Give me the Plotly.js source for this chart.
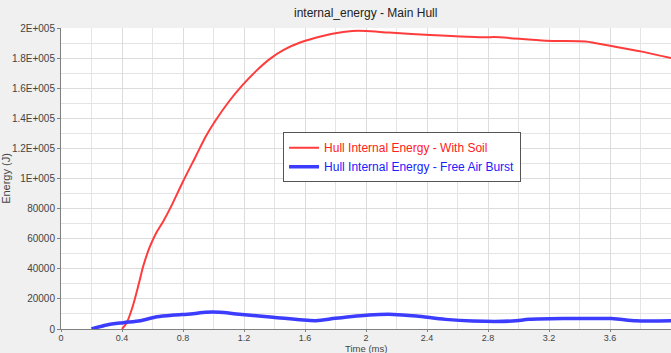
<!DOCTYPE html>
<html>
<head>
<meta charset="utf-8">
<script src="https://cdn.plot.ly/plotly-3.0.1.min.js"></script>
<style>html,body{margin:0;padding:0;background:#f0f0f0;}#chart{width:671px;height:353px;}</style>
</head>
<body>
<div id="chart"></div>
<script>
// Hull Internal Energy - With Soil
var soilTime = [0.40, 0.43, 0.47, 0.51, 0.54, 0.58, 0.62, 0.67, 0.72, 0.80, 0.88, 0.95, 1.01, 1.10, 1.19, 1.28, 1.37, 1.46, 1.56, 1.67, 1.78, 1.91, 2.00, 2.15, 2.42, 2.79, 2.84, 3.18, 3.44, 3.50, 3.61, 3.81, 4.00];
var soilEnergy = [0, 4000, 15000, 30000, 42000, 54000, 63000, 71500, 81000, 98000, 114000, 128000, 138000, 151000, 162000, 171500, 179500, 185500, 190000, 193500, 196200, 198000, 198000, 197000, 195400, 193800, 194000, 191600, 191000, 190000, 188000, 184300, 180000];

// Hull Internal Energy - Free Air Burst
var airTime = [0.20, 0.30, 0.41, 0.52, 0.63, 0.74, 0.85, 0.95, 1.04, 1.15, 1.39, 1.67, 1.80, 2.02, 2.18, 2.33, 2.52, 2.70, 2.96, 3.07, 3.29, 3.61, 3.77, 4.00];
var airEnergy = [0, 2700, 4200, 5500, 8200, 9300, 10000, 11100, 11100, 10000, 7800, 5500, 7100, 9300, 9700, 8600, 6400, 5300, 5300, 6400, 6900, 6900, 5500, 5500];

var xTickVals = [0, 0.4, 0.8, 1.2, 1.6, 2, 2.4, 2.8, 3.2, 3.6];
var xTickText = ['0', '0.4', '0.8', '1.2', '1.6', '2', '2.4', '2.8', '3.2', '3.6'];
var yTickVals = [0, 20000, 40000, 60000, 80000, 100000, 120000, 140000, 160000, 180000, 200000];
var yTickText = ['0', '20000', '40000', '60000', '80000', '1E+005', '1.2E+005', '1.4E+005', '1.6E+005', '1.8E+005', '2E+005'];
var xTitle = 'Time (ms)';

var traces = [
  {
    x: soilTime, y: soilEnergy, type: 'scatter', mode: 'lines',
    name: '<span style="color:#ff2020">Hull Internal Energy - With Soil</span>',
    line: {color: '#ff3c3c', width: 2, shape: 'spline', smoothing: 0.8}
  },
  {
    x: airTime, y: airEnergy, type: 'scatter', mode: 'lines',
    name: '<span style="color:#2020ff">Hull Internal Energy - Free Air Burst</span>',
    line: {color: '#3c3cff', width: 3.5, shape: 'spline', smoothing: 0.8}
  }
];

var fam = 'Liberation Sans, Arial, sans-serif';
var tickFont = {family: fam, size: 10, color: '#444'};

var layout = {
  width: 671, height: 353,
  paper_bgcolor: '#f0f0f0', plot_bgcolor: '#ffffff',
  margin: {l: 61, r: 0, t: 28, b: 24},
  title: {text: 'internal_energy - Main Hull', font: {family: fam, size: 12, color: '#222'}, x: 0.545, xanchor: 'center', y: 0.965, yanchor: 'middle'},
  showlegend: true,
  legend: {
    x: 0.364, y: 0.654, xanchor: 'left', yanchor: 'top',
    bgcolor: '#ffffff', bordercolor: '#555555', borderwidth: 1,
    font: {family: fam, size: 12},
    tracegroupgap: 0, itemwidth: 30
  },
  annotations: [{
    text: xTitle, xref: 'paper', yref: 'paper', x: 0.5, y: -0.086,
    xanchor: 'center', yanchor: 'bottom', showarrow: false, borderpad: 0,
    font: {family: fam, size: 9.5, color: '#444'}
  }],
  xaxis: {
    range: [0, 4], tickvals: xTickVals, ticktext: xTickText,
    showline: true, linecolor: '#808080', linewidth: 1,
    ticks: 'outside', ticklen: 2, tickcolor: '#808080',
    ticklabelstandoff: -2,
    showgrid: true, gridcolor: '#dcdcdc', gridwidth: 1,
    minor: {dtick: 0.2, showgrid: true, gridcolor: '#e4e4e4', ticks: ''},
    zeroline: false, tickfont: {family: fam, size: 9, color: '#444'}
  },
  yaxis: {
    range: [0, 200000], tickvals: yTickVals, ticktext: yTickText,
    showline: true, linecolor: '#808080', linewidth: 1,
    ticks: 'outside', ticklen: 3, tickcolor: '#808080',
    showgrid: true, gridcolor: '#dcdcdc', gridwidth: 1,
    minor: {dtick: 10000, showgrid: true, gridcolor: '#e4e4e4', ticks: ''},
    zeroline: false, tickfont: tickFont,
    title: {text: 'Energy (J)', font: {family: fam, size: 11, color: '#444'}, standoff: 0}
  }
};

Plotly.newPlot('chart', traces, layout, {displayModeBar: false, staticPlot: true});
</script>
</body>
</html>
